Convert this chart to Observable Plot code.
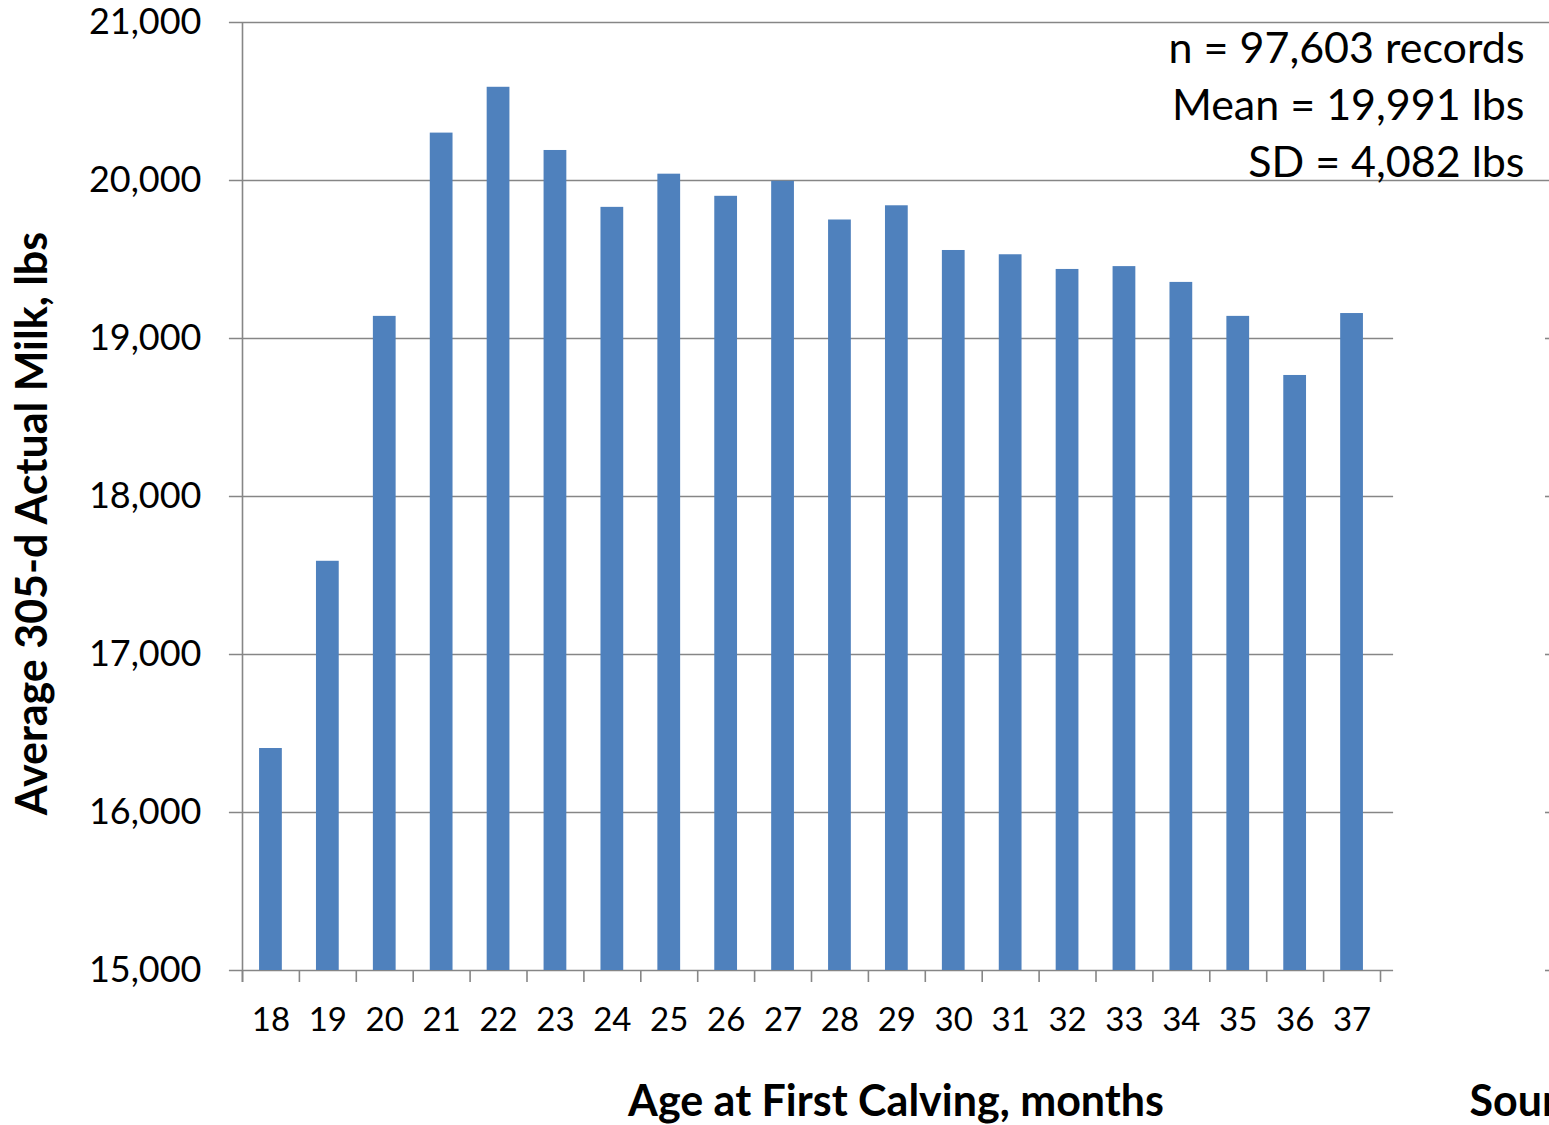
<!DOCTYPE html>
<html><head><meta charset="utf-8">
<script src="https://cdn.jsdelivr.net/npm/d3@7"></script>
<script src="https://cdn.jsdelivr.net/npm/@observablehq/plot@0.6"></script>
<style>
body{margin:0;background:#fff;}
#chart{width:1549px;height:1125px;overflow:hidden;}
#chart svg{overflow:hidden;display:block;}
</style></head><body><div id="chart"></div>
<script>
const ages = [18,19,20,21,22,23,24,25,26,27,28,29,30,31,32,33,34,35,36,37];
const milk = [16405,17590,19140,20300,20590,20190,19830,20040,19900,19995,19750,19840,19557,19530,19437,19455,19355,19140,18766,19158];
const yTicks = [15000,16000,17000,18000,19000,20000,21000];
const notes = ["n = 97,603 records", "Mean = 19,991 lbs", "SD = 4,082 lbs"];
const yTitle = "Average 305-d Actual Milk, lbs";
const xTitle = "Age at First Calving, months";
const sourceText = "Source";

const data = ages.map((a, i) => ({age: a, milk: milk[i]}));
const boundaries = ages.map(a => a - 0.5).concat([ages[ages.length - 1] + 0.5]);
const xMin = 17.5, xMax = 40.47, gridEnd = 37.73, tickStart = 17.27;
const font = "Lato, 'DejaVu Sans', sans-serif";
const grey = "#868686";

const chart = Plot.plot({
  width: 1549, height: 1125,
  marginLeft: 242, marginRight: 0, marginTop: 22, marginBottom: 155,
  style: {fontFamily: font, background: "white", color: "black"},
  x: {type: "linear", domain: [xMin, xMax], axis: null},
  y: {domain: [15000, 21000], axis: null},
  marks: [
    Plot.ruleY(yTicks, {y: d => d, x1: tickStart, x2: d => d >= 20000 ? xMax : gridEnd, stroke: grey, strokeWidth: 1.6}),
    Plot.ruleY(yTicks.filter(d => d < 20000), {y: d => d, x1: 40.4, x2: xMax, stroke: grey, strokeWidth: 1.6}),
    Plot.rect(data, {x1: d => d.age - 0.2, x2: d => d.age + 0.2, y1: 15000, y2: "milk", fill: "#4F81BD"}),
    Plot.ruleX([xMin], {x: d => d, y1: 14924, y2: 21000, stroke: grey, strokeWidth: 1.6}),
    Plot.ruleX(boundaries, {x: d => d, y1: 15000, y2: 14924, stroke: grey, strokeWidth: 1.6}),
    Plot.text(yTicks, {x: xMin, y: d => d, dx: -41, textAnchor: "end", lineAnchor: "middle", text: d => d3.format(",")(d), fontSize: 36, fill: "black", fontFamily: font}),
    Plot.text(ages, {x: d => d, y: 15000, dy: 50, text: d => String(d), lineAnchor: "middle", fontSize: 33, fill: "black", fontFamily: font}),
    Plot.text([notes.join("\n")], {frameAnchor: "top-right", dx: -25, dy: 0, textAnchor: "end", lineAnchor: "top", lineHeight: 1.326, fontSize: 43, fill: "black", fontFamily: font}),
    Plot.text([xTitle], {frameAnchor: "bottom", dy: 132, lineAnchor: "middle", textAnchor: "middle", fontWeight: "bold", fontSize: 43, fill: "black", fontFamily: font}),
    Plot.text([yTitle], {frameAnchor: "left", rotate: -90, dx: -209, dy: 27, lineAnchor: "middle", textAnchor: "middle", fontWeight: "bold", fontSize: 43, fill: "black", fontFamily: font}),
    Plot.text([sourceText], {frameAnchor: "bottom-right", dx: -80, dy: 132, textAnchor: "start", lineAnchor: "middle", fontWeight: "bold", fontSize: 43, fill: "black", fontFamily: font})
  ]
});
document.getElementById("chart").appendChild(chart);
</script>
</body></html>
